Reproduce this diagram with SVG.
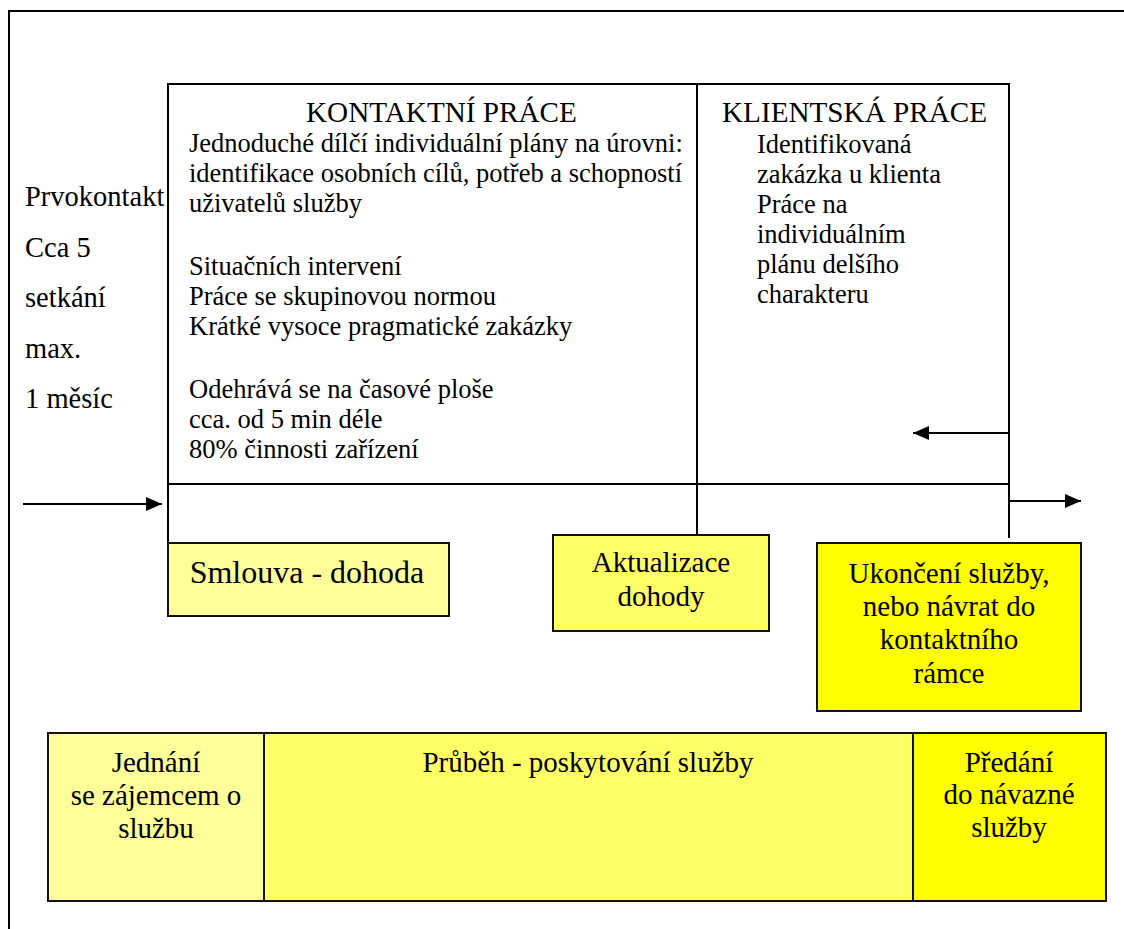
<svg xmlns="http://www.w3.org/2000/svg" width="1124" height="929" viewBox="0 0 1124 929">
<style>
text{font-family:"Liberation Serif","Times New Roman",serif;fill:#000}
.b{font-size:26.5px}
.h{font-size:29.2px}
.l{font-size:28.5px}
.m{font-size:29px;text-anchor:middle}
.ln{stroke:#000;stroke-width:2;fill:none}
.box{stroke:#111;stroke-width:2}
</style>
<defs>
<marker id="ah" markerWidth="16" markerHeight="14" refX="16" refY="7" orient="auto" markerUnits="userSpaceOnUse">
<path d="M0,0 L16,7 L0,14 Z" fill="#000"/>
</marker>
</defs>
<rect width="1124" height="929" fill="#fff"/>
<g id="frame">
<path class="ln" d="M9,929 V11 H1124"/>
</g>
<g id="left-labels">
<text class="l" x="25" y="206">Prvokontakt</text>
<text class="l" x="25" y="257">Cca 5</text>
<text class="l" x="25" y="307">setkání</text>
<text class="l" x="25" y="358">max.</text>
<text class="l" x="25" y="408">1 měsíc</text>
</g>
<g id="kontaktni-prace">
<path class="ln" d="M168,543 V84 H697 V535"/>
<text class="h" x="306" y="122">KONTAKTNÍ PRÁCE</text>
<text class="b" x="189" y="152">Jednoduché dílčí individuální plány na úrovni:</text>
<text class="b" x="189" y="182">identifikace osobních cílů, potřeb a schopností</text>
<text class="b" x="189" y="212">uživatelů služby</text>
<text class="b" x="189" y="275">Situačních intervení</text>
<text class="b" x="189" y="305">Práce se skupinovou normou</text>
<text class="b" x="189" y="335">Krátké vysoce pragmatické zakázky</text>
<text class="b" x="189" y="398">Odehrává se na časové ploše</text>
<text class="b" x="189" y="428">cca. od 5 min déle</text>
<text class="b" x="189" y="458">80% činnosti zařízení</text>
</g>
<g id="klientska-prace">
<path class="ln" d="M697,84 H1009 V538"/>
<text class="h" x="722" y="122">KLIENTSKÁ PRÁCE</text>
<text class="b" x="757" y="153">Identifikovaná</text>
<text class="b" x="757" y="183">zakázka u klienta</text>
<text class="b" x="757" y="213">Práce na</text>
<text class="b" x="757" y="243">individuálním</text>
<text class="b" x="757" y="273">plánu delšího</text>
<text class="b" x="757" y="303">charakteru</text>
</g>
<g id="connectors">
<path class="ln" d="M168,484 H1009"/>
<path class="ln" d="M23,504 H162" marker-end="url(#ah)"/>
<path class="ln" d="M1009,433 H913" marker-end="url(#ah)"/>
<path class="ln" d="M1009,501 H1081" marker-end="url(#ah)"/>
</g>
<g id="smlouva">
<rect class="box" x="168" y="543" width="281" height="73" fill="#FFFF99"/>
<text x="307" y="583" font-size="32" text-anchor="middle">Smlouva - dohoda</text>
</g>
<g id="aktualizace">
<rect class="box" x="553" y="535" width="216" height="96" fill="#FFFF66"/>
<text class="m" x="661" y="572">Aktualizace</text>
<text class="m" x="661" y="606">dohody</text>
</g>
<g id="ukonceni">
<rect class="box" x="817" y="543" width="264" height="168" fill="#FFFF00"/>
<text class="m" x="949" y="583">Ukončení služby,</text>
<text class="m" x="949" y="616">nebo návrat do</text>
<text class="m" x="949" y="649">kontaktního</text>
<text class="m" x="949" y="683">rámce</text>
</g>
<g id="jednani">
<rect class="box" x="48" y="733" width="216" height="168" fill="#FFFF99"/>
<text class="m" x="156" y="772">Jednání</text>
<text class="m" x="156" y="805">se zájemcem o</text>
<text class="m" x="156" y="838">službu</text>
</g>
<g id="prubeh">
<rect class="box" x="264" y="733" width="649" height="168" fill="#FFFF66"/>
<text class="m" x="588" y="772">Průběh - poskytování služby</text>
</g>
<g id="predani">
<rect class="box" x="913" y="733" width="193" height="168" fill="#FFFF00"/>
<text class="m" x="1009" y="772">Předání</text>
<text class="m" x="1009" y="804">do návazné</text>
<text class="m" x="1009" y="837">služby</text>
</g>
</svg>
